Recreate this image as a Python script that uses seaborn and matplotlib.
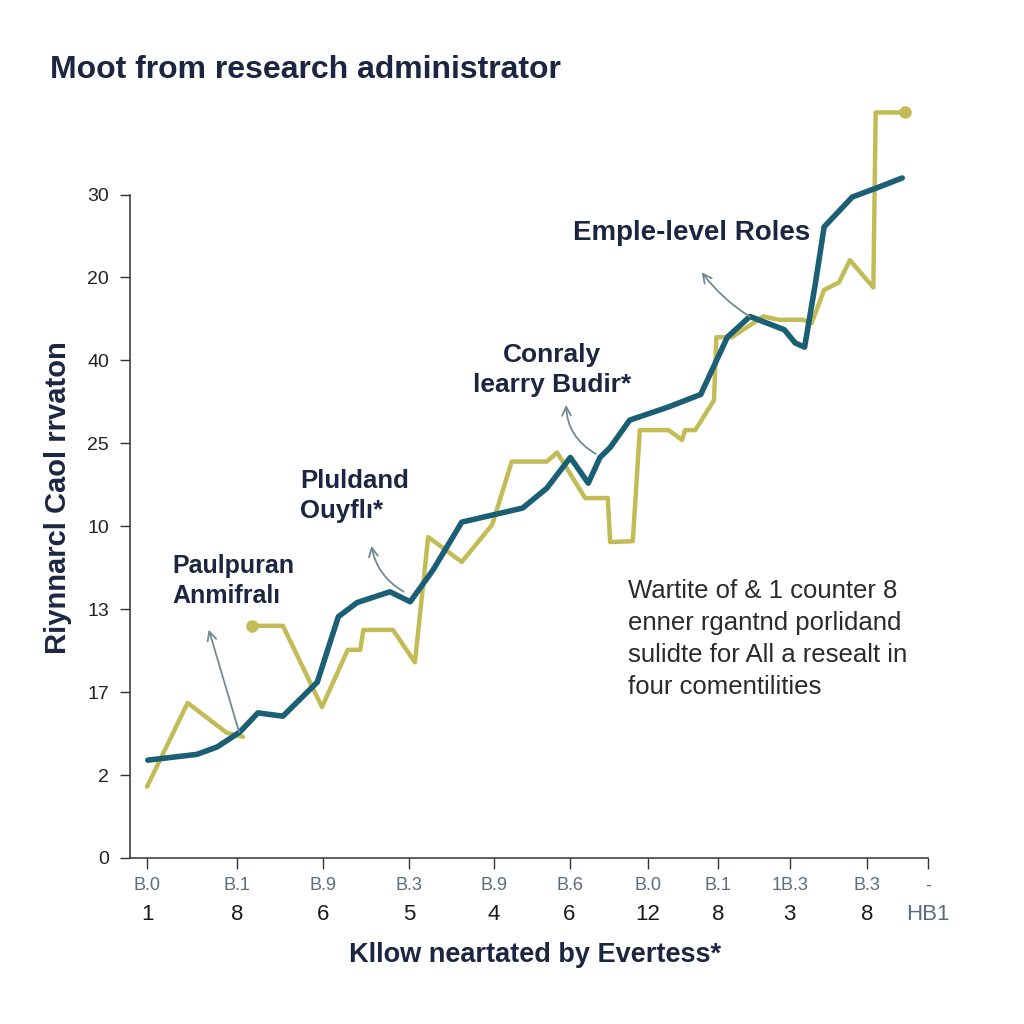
import numpy as np
import pandas as pd
import matplotlib
matplotlib.use("Agg")
import matplotlib.pyplot as plt
import seaborn as sns

# teal series (smooth-ish trend)
teal_x = [0.01, 0.64, 0.90, 1.19, 1.42, 1.74, 2.18, 2.45, 2.69, 3.11, 3.37, 3.66, 4.03,
          4.81, 5.12, 5.42, 5.65, 5.80, 5.93, 6.18, 6.68, 7.09, 7.43, 7.72, 8.16, 8.30,
          8.42, 8.56, 8.67, 9.03, 9.37, 9.67]
teal_y = [1.18, 1.25, 1.34, 1.52, 1.75, 1.71, 2.12, 2.91, 3.08, 3.21, 3.09, 3.47, 4.05,
          4.22, 4.46, 4.83, 4.52, 4.83, 4.95, 5.28, 5.44, 5.59, 6.28, 6.53, 6.37, 6.21,
          6.16, 6.94, 7.61, 7.97, 8.09, 8.20]

# gold series, first short piece
gold_a_x = [0.00, 0.52, 1.02, 1.23]
gold_a_y = [0.86, 1.87, 1.51, 1.46]

# gold series, main stepped piece
gold_b_x = [1.34, 1.74, 2.24, 2.57, 2.73, 2.77, 3.15, 3.43, 3.60, 4.03, 4.42, 4.67, 5.12,
            5.25, 5.61, 5.90, 5.93, 6.22, 6.31, 6.68, 6.85, 6.89, 7.02, 7.26, 7.29, 7.49,
            7.89, 8.09, 8.40, 8.51, 8.67, 8.86, 9.00, 9.30, 9.33, 9.71]
gold_b_y = [2.80, 2.80, 1.82, 2.51, 2.51, 2.75, 2.75, 2.36, 3.87, 3.57, 4.02, 4.78, 4.78,
            4.89, 4.34, 4.34, 3.81, 3.82, 5.16, 5.16, 5.04, 5.16, 5.16, 5.52, 6.28, 6.28,
            6.53, 6.49, 6.49, 6.45, 6.85, 6.94, 7.21, 6.88, 8.99, 8.99]

y_tick_labels = ["0", "2", "17", "13", "10", "25", "40", "20", "30"]
x_tick_top = ["B.0", "B.1", "B.9", "B.3", "B.9", "B.6", "B.0", "B.1", "1B.3", "B.3", "-"]
x_tick_bottom = ["1", "8", "6", "5", "4", "6", "12", "8", "3", "8", "HB1"]
x_tick_pos = [0.0, 1.15, 2.25, 3.36, 4.44, 5.41, 6.41, 7.31, 8.23, 9.22, 10.0]

TEAL = "#1b5f74"
GOLD = "#c3bc56"
NAVY = "#1c2541"
ARROW = "#6f8a92"

sns.set_theme(style="white")
plt.rcParams["font.family"] = ["Liberation Sans", "DejaVu Sans"]

fig = plt.figure(figsize=(10.24, 10.24), dpi=100)
ax = fig.add_axes([130 / 1024, 166 / 1024, 798 / 1024, 753 / 1024])

teal_df = pd.DataFrame({"x": teal_x, "y": teal_y})
gold_a = pd.DataFrame({"x": gold_a_x, "y": gold_a_y})
gold_b = pd.DataFrame({"x": gold_b_x, "y": gold_b_y})

sns.lineplot(data=gold_a, x="x", y="y", sort=False, estimator=None, color=GOLD, lw=3.2, ax=ax)
sns.lineplot(data=gold_b, x="x", y="y", sort=False, estimator=None, color=GOLD, lw=3.2, ax=ax)
ax.plot(gold_b_x[0], gold_b_y[0], "o", color=GOLD, ms=8)
ax.plot(gold_b_x[-1], gold_b_y[-1], "o", color=GOLD, ms=8)
sns.lineplot(data=teal_df, x="x", y="y", sort=False, estimator=None, color=TEAL, lw=4, ax=ax)

ax.set_xlim(-0.218, 10.0)
ax.set_ylim(0, 9.08)
ax.set_xlabel("")
ax.set_ylabel("")

ax.set_yticks(range(len(y_tick_labels)))
ax.set_yticklabels(y_tick_labels, fontsize=14, color="#222222")
ax.set_xticks(x_tick_pos)
ax.set_xticklabels(x_tick_top, fontsize=13, color="#5c6b82")
ax.tick_params(axis="x", direction="out", length=8, width=1, color="#333333", pad=6, bottom=True)
ax.tick_params(axis="y", direction="out", length=7, width=1, color="#333333", pad=8, left=True)

for side in ["top", "right"]:
    ax.spines[side].set_visible(False)
for side in ["left", "bottom"]:
    ax.spines[side].set_color("#333333")
    ax.spines[side].set_linewidth(1.1)
ax.spines["left"].set_bounds(0, 8)

for i, (pos, lab) in enumerate(zip(x_tick_pos, x_tick_bottom)):
    col = "#5c6b82" if i == len(x_tick_bottom) - 1 else "#1a1a1a"
    ax.annotate(lab, xy=(pos, 0), xycoords=("data", "axes fraction"),
                xytext=(0, -57), textcoords="offset pixels",
                ha="center", va="center", fontsize=16, color=col)

fig.text(50 / 1024, 1 - 70 / 1024, "Moot from research administrator",
         fontsize=23, fontweight="bold", color=NAVY, va="center", ha="left")
fig.text(58 / 1024, 1 - 498 / 1024, "Riynnarcl Caol rrvaton", rotation=90,
         fontsize=21, fontweight="bold", color=NAVY, va="center", ha="center")
fig.text(535 / 1024, 1 - 955 / 1024, "Kllow neartated by Evertess*",
         fontsize=19.5, fontweight="bold", color=NAVY, va="center", ha="center")


def fp(px, py):
    return (px / 1024, 1 - py / 1024)


labels = [
    ("Paulpuran\nAnmifralı", fp(172, 581), "left", 18, (240, 735), (208, 627), 0.0),
    ("Pluldand\nOuyflı*", fp(300, 496), "left", 18.5, (406, 593), (371, 543), -0.25),
    ("Conraly\nlearry Budir*", fp(552, 370), "center", 19, (598, 455), (566, 402), -0.3),
    ("Emple-level Roles", fp(573, 233), "left", 20, (752, 318), (700, 270), -0.1),
]
for text, pos, ha, fs, tail, head, rad in labels:
    fig.text(pos[0], pos[1], text, fontsize=fs, fontweight="bold", color=NAVY,
             ha=ha, va="center", linespacing=1.35)
    ax.annotate("", xy=fp(*head), xycoords="figure fraction",
                xytext=fp(*tail), textcoords="figure fraction",
                arrowprops=dict(arrowstyle="->", color=ARROW, lw=1.3,
                                mutation_scale=16, connectionstyle=f"arc3,rad={rad}"))

fig.text(628 / 1024, 1 - 639 / 1024,
         "Wartite of & 1 counter 8\nenner rgantnd porlidand\nsulidte for All a resealt in\nfour comentilities",
         fontsize=18.5, color="#2a2a2a", ha="left", va="center", linespacing=1.42)

fig.savefig("out.png", dpi=100, facecolor="white")
